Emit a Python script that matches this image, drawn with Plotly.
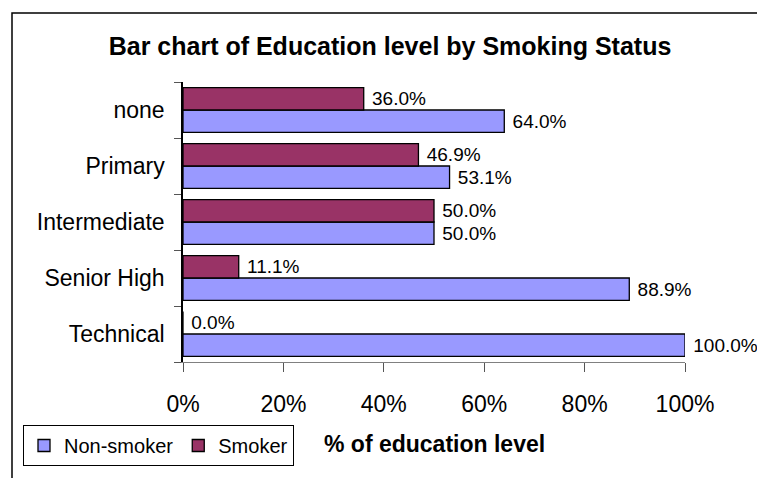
import plotly.graph_objects as go

categories = ["none", "Primary", "Intermediate", "Senior High", "Technical"]
non_smoker = [64.0, 53.1, 50.0, 88.9, 100.0]
smoker = [36.0, 46.9, 50.0, 11.1, 0.0]
x_ticks = [0, 20, 40, 60, 80, 100]

W, H = 757, 478
L, R, T, B = 183, 685, 82, 362


def px(x):
    return (x - L) / (R - L)


def py(y):
    return (B - y) / (B - T)


FONT = "Liberation Sans, Arial, sans-serif"

fig = go.Figure()
fig.add_trace(go.Bar(
    y=categories, x=non_smoker, orientation="h", name="Non-smoker",
    marker=dict(color="#9999FF", line=dict(color="black", width=1.3)),
    text=[f" {v:.1f}%" for v in non_smoker], textposition="outside",
    textfont=dict(size=19, color="black", family=FONT), cliponaxis=False,
))
fig.add_trace(go.Bar(
    y=categories, x=smoker, orientation="h", name="Smoker",
    marker=dict(color="#993366", line=dict(color="black", width=1.3)),
    text=[f" {v:.1f}%" for v in smoker], textposition="outside",
    textfont=dict(size=19, color="black", family=FONT), cliponaxis=False,
))

fig.update_layout(
    width=W, height=H,
    margin=dict(l=L, r=W - R, t=T, b=H - B, pad=0),
    paper_bgcolor="white", plot_bgcolor="white",
    barmode="group", bargap=0.2, bargroupgap=0,
    font=dict(family=FONT, color="black"),
    title=dict(text="<b>Bar chart of Education level by Smoking Status</b>",
               x=390 / W, xanchor="center", y=1 - 46 / H, yanchor="middle",
               font=dict(size=25, family=FONT, color="black")),
    showlegend=True,
    legend=dict(orientation="h", x=px(23), y=py(425), xanchor="left", yanchor="top",
                bgcolor="white", bordercolor="black", borderwidth=1,
                font=dict(size=20, family=FONT, color="black"),
                traceorder="normal", itemwidth=30),
    xaxis=dict(range=[0, 100], tickvals=x_ticks, ticktext=[f"{v}%" for v in x_ticks],
               showgrid=False, zeroline=False, showline=True, linecolor="#808080",
               linewidth=1, ticks="outside", ticklen=9, tickcolor="#555555",
               ticklabelstandoff=12,
               tickfont=dict(size=23, family=FONT, color="black"), fixedrange=True),
    yaxis=dict(categoryorder="array", categoryarray=categories[::-1],
               showgrid=False, zeroline=False, showline=True, linecolor="black",
               linewidth=1.5, ticks="outside", ticklen=7, tickcolor="#555555",
               tickson="boundaries", ticklabelstandoff=12,
               tickfont=dict(size=23, family=FONT, color="black"), fixedrange=True),
    shapes=[dict(type="rect", xref="paper", yref="paper",
                 x0=px(12), x1=px(W + 20), y0=py(H + 20), y1=py(13),
                 line=dict(color="black", width=1.5), fillcolor="rgba(0,0,0,0)",
                 layer="below")],
    annotations=[dict(text="<b>% of education level</b>", xref="paper", yref="paper",
                      x=px(434), y=py(443.5), xanchor="center", yanchor="middle",
                      showarrow=False, font=dict(size=23, family=FONT, color="black"))],
)

fig.write_html("out.html", config={"displayModeBar": False},
               post_script="document.body.style.margin='0';")
